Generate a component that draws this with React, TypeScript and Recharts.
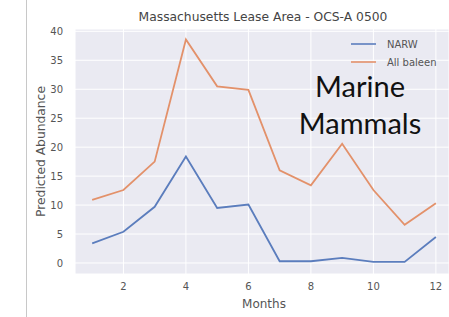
import { LineChart, Line, XAxis, YAxis, CartesianGrid } from 'recharts'

const months = [1, 2, 3, 4, 5, 6, 7, 8, 9, 10, 11, 12]
const narw = [3.4, 5.4, 9.7, 18.4, 9.5, 10.1, 0.3, 0.3, 0.9, 0.2, 0.2, 4.5]
const allBaleen = [10.9, 12.6, 17.5, 38.6, 30.5, 29.9, 16.0, 13.4, 20.6, 12.6, 6.6, 10.3]
const xTicks = [2, 4, 6, 8, 10, 12]
const yTicks = [0, 5, 10, 15, 20, 25, 30, 35, 40]

const BLUE = '#5b7dbd'
const ORANGE = '#e3916a'
const FONT = 'DejaVu Sans, sans-serif'

const data = months.map((m, i) => ({ month: m, narw: narw[i], baleen: allBaleen[i] }))

function LegendBox() {
  const items = [
    { name: 'NARW', color: BLUE },
    { name: 'All baleen', color: ORANGE },
  ]
  return (
    <div style={{ position: 'absolute', left: 351, top: 35, fontFamily: FONT, fontSize: 10, color: '#555' }}>
      {items.map((it) => (
        <div key={it.name} style={{ display: 'flex', alignItems: 'center', height: 18 }}>
          <div style={{ width: 25, height: 2, background: it.color, opacity: 0.8, marginRight: 11 }} />
          <span>{it.name}</span>
        </div>
      ))}
    </div>
  )
}

export default function App() {
  return (
    <div style={{ position: 'absolute', left: 0, top: 0, width: 449, height: 317, background: '#fff', overflow: 'hidden' }}>
      <div style={{ position: 'absolute', left: 26, top: 0, width: 1, height: 317, background: '#c8c8c8' }} />
      <LineChart width={449} height={317} data={data} margin={{ top: 29, right: 0, bottom: 13, left: 0 }}>
        <CartesianGrid stroke="#ffffff" strokeWidth={1} fill="#eaeaf2" />
        <XAxis
          dataKey="month"
          type="number"
          domain={[0.45, 12.42]}
          ticks={xTicks}
          allowDataOverflow
          height={30}
          axisLine={false}
          tickLine={false}
          tickSize={0}
          tickMargin={9}
          tick={{ fill: '#555', fontSize: 10, fontFamily: FONT }}
        />
        <YAxis
          type="number"
          domain={[-1.9, 40.4]}
          ticks={yTicks}
          allowDataOverflow
          width={75}
          axisLine={false}
          tickLine={false}
          tickSize={0}
          tickMargin={12}
          tick={{ fill: '#555', fontSize: 10, fontFamily: FONT }}
          label={{ value: 'Predicted Abundance', angle: -90, position: 'insideLeft', offset: 41, fill: '#555', fontSize: 12.3, fontFamily: FONT, style: { textAnchor: 'middle' } }}
        />
        <Line dataKey="narw" stroke={BLUE} strokeWidth={1.8} dot={false} isAnimationActive={false} />
        <Line dataKey="baleen" stroke={ORANGE} strokeWidth={1.8} dot={false} isAnimationActive={false} />
      </LineChart>
      <LegendBox />
      <div style={{ position: 'absolute', left: 63, width: 400, top: 10, textAlign: 'center', fontFamily: FONT, fontSize: 12.3, color: '#444', whiteSpace: 'nowrap' }}>
        Massachusetts Lease Area - OCS-A 0500
      </div>
      <div style={{ position: 'absolute', left: 214, width: 100, top: 297, textAlign: 'center', fontFamily: FONT, fontSize: 12, color: '#555' }}>
        Months
      </div>
      <div style={{ position: 'absolute', left: 290, width: 140, top: 67, textAlign: 'center', fontFamily: 'Lato, sans-serif', fontSize: 29, lineHeight: '37px', color: '#111' }}>
        Marine
        <br />
        Mammals
      </div>
    </div>
  )
}
